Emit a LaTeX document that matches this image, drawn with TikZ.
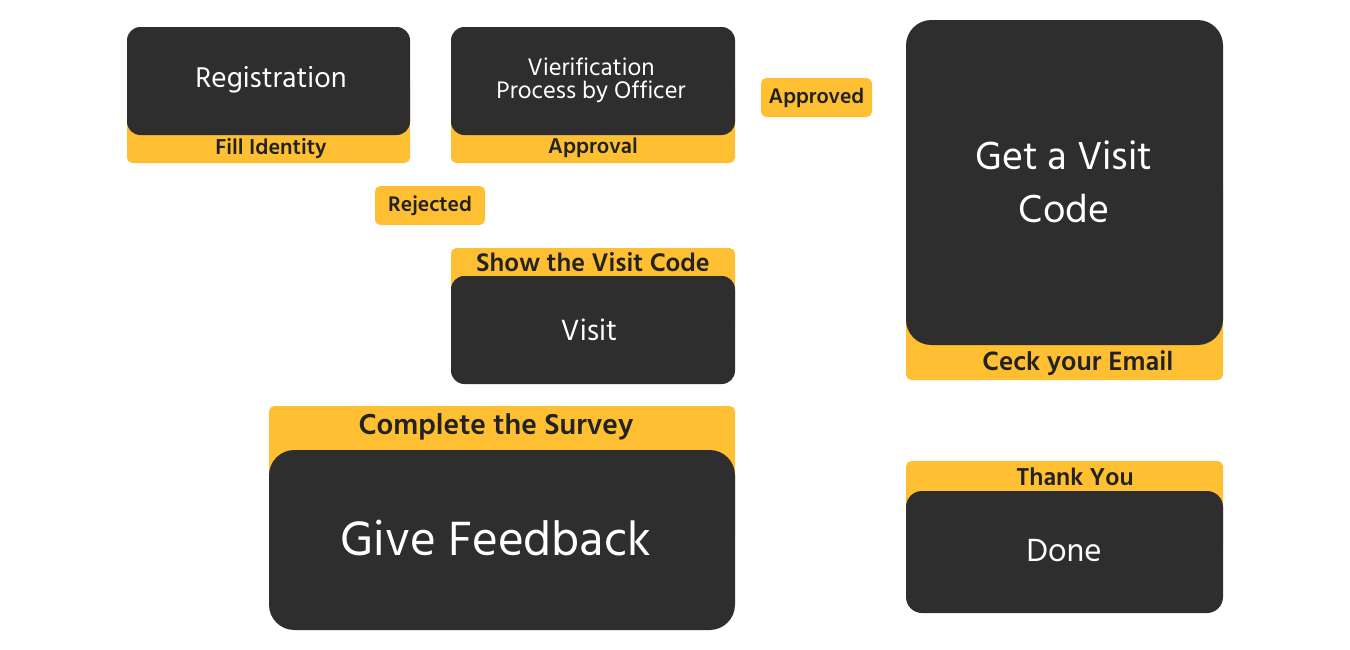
\documentclass[tikz,border=0pt]{standalone}
\usepackage{fontspec}
\setmainfont{Hind Madurai}
\definecolor{cardgray}{HTML}{2E2E2E}
\definecolor{tabyellow}{HTML}{FFBF33}
\definecolor{tabink}{HTML}{222222}
\begin{document}
\begin{tikzpicture}[x=0.75pt,y=-0.75pt,
  tab/.style={fill=tabyellow,draw=none,rounded corners=4pt,inner sep=0pt},
  card/.style={fill=cardgray,draw=none,rounded corners=10pt,inner sep=0pt,text=white,align=center},
  tabtext/.style={text=tabink,font=\bfseries,inner sep=0pt}]
\useasboundingbox (0,0) rectangle (1350,650);
%% the yellow tabs
\node[tab,minimum width=283*0.75pt,minimum height=82*0.75pt] (regtab) at (268.5,122) {};
\node[tab,minimum width=284*0.75pt,minimum height=82*0.75pt] (vertab) at (593,122) {};
\node[tab,minimum width=317*0.75pt,minimum height=198*0.75pt] (codetab) at (1064.5,281) {};
\node[tab,minimum width=284*0.75pt,minimum height=82*0.75pt] (visittab) at (593,289) {};
\node[tab,minimum width=466*0.75pt,minimum height=134*0.75pt] (feedtab) at (502,473) {};
\node[tab,minimum width=317*0.75pt,minimum height=91*0.75pt] (donetab) at (1064.5,506.5) {};
%% the dark cards
\node[card,minimum width=283*0.75pt,minimum height=108*0.75pt] (reg) at (268.5,81) {};
\node[card,minimum width=284*0.75pt,minimum height=108*0.75pt] (ver) at (593,81) {};
\node[card,rounded corners=19pt,minimum width=317*0.75pt,minimum height=325*0.75pt] (code) at (1064.5,182.5) {};
\node[card,minimum width=284*0.75pt,minimum height=108*0.75pt] (visit) at (593,330) {};
\node[card,rounded corners=19pt,minimum width=466*0.75pt,minimum height=180*0.75pt] (feed) at (502,540) {};
\node[card,rounded corners=12pt,minimum width=317*0.75pt,minimum height=122*0.75pt] (done) at (1064.5,552) {};
%% the card texts
\node[text=white,font=\fontsize{22}{26}\selectfont] (regtext) at (271,80) {Registration};
\node[text=white,align=center,font=\fontsize{18.4}{17}\selectfont] (vertext) at (591,80) {Vierification\\Process by Officer};
\node[text=white,align=center,font=\fontsize{30}{40}\selectfont] (codetext) at (1064,182) {Get a Visit\\Code};
\node[text=white,font=\fontsize{22.5}{26}\selectfont] (visittext) at (589,330) {Visit};
\node[text=white,font=\fontsize{37}{44}\selectfont] (feedtext) at (496,538) {Give Feedback};
\node[text=white,font=\fontsize{24.7}{28}\selectfont] (donetext) at (1064,551) {Done};
%% the tab labels
\node[tabtext,font=\fontsize{16.6}{20}\bfseries] (regnote) at (271,148) {Fill Identity};
\node[tabtext,font=\fontsize{16.5}{20}\bfseries] (vernote) at (593,148) {Approval};
\node[tabtext,font=\fontsize{20.4}{24}\bfseries] (codenote) at (1078,363) {Ceck your Email};
\node[tabtext,font=\fontsize{19.6}{24}\bfseries] (visitnote) at (593,262) {Show the Visit Code};
\node[tabtext,font=\fontsize{22.2}{26}\bfseries] (feednote) at (496,427) {Complete the Survey};
\node[tabtext,font=\fontsize{18.8}{22}\bfseries] (donenote) at (1075,477) {Thank You};
%% the loose tags
\node[tab,text=tabink,font=\fontsize{16.2}{19}\bfseries,minimum width=111*0.75pt,minimum height=39*0.75pt] (approved) at (816.5,97.5) {Approved};
\node[tab,text=tabink,font=\fontsize{16.2}{19}\bfseries,minimum width=110*0.75pt,minimum height=39*0.75pt] (rejected) at (430,205.5) {Rejected};
\end{tikzpicture}
\end{document}
